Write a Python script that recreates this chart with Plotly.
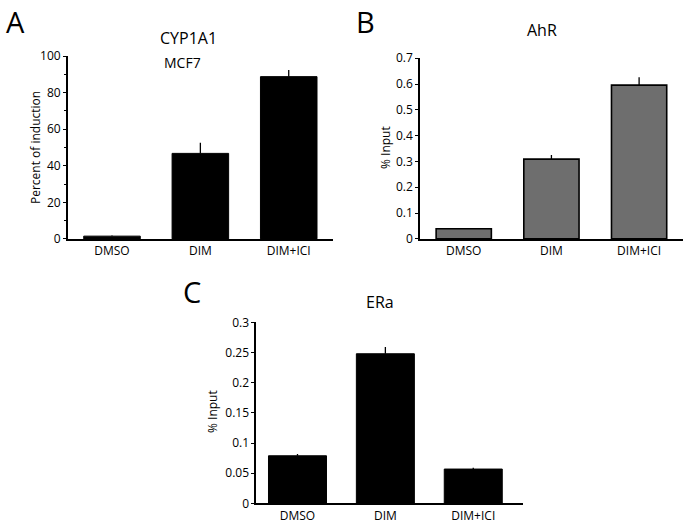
import plotly.graph_objects as go

categories = ["DMSO", "DIM", "DIM+ICI"]

# Panel A: CYP1A1 in MCF7
cyp_vals = [1.5, 46.8, 88.8]
cyp_err = [0.3, 5.8, 3.6]

# Panel B: AhR
ahr_vals = [0.039, 0.309, 0.596]
ahr_err = [0.0, 0.016, 0.03]

# Panel C: ERa
era_vals = [0.079, 0.248, 0.057]
era_err = [0.003, 0.011, 0.002]

FONT = "Open Sans, DejaVu Sans, sans-serif"

fig = go.Figure()

fig.add_trace(go.Bar(
    x=categories, y=cyp_vals, xaxis="x", yaxis="y", width=0.64,
    marker=dict(color="black", line=dict(color="black", width=1)),
    error_y=dict(type="data", symmetric=False, array=cyp_err, arrayminus=[0, 0, 0],
                 color="black", thickness=1.3, width=0),
))
fig.add_trace(go.Bar(
    x=categories, y=ahr_vals, xaxis="x2", yaxis="y2", width=0.63,
    marker=dict(color="#6e6e6e", line=dict(color="black", width=1.6)),
    error_y=dict(type="data", symmetric=False, array=ahr_err, arrayminus=[0, 0, 0],
                 color="black", thickness=1.3, width=0),
))
fig.add_trace(go.Bar(
    x=categories, y=era_vals, xaxis="x3", yaxis="y3", width=0.66,
    marker=dict(color="black", line=dict(color="black", width=1)),
    error_y=dict(type="data", symmetric=False, array=era_err, arrayminus=[0, 0, 0],
                 color="black", thickness=1.3, width=0),
))

# automargin off so the domains stay where they are put
xcommon = dict(showline=True, linecolor="black", linewidth=2, ticks="",
               showgrid=False, zeroline=False, range=[-0.5, 2.5], automargin=False,
               tickfont=dict(size=12, color="black", family=FONT))
ycommon = dict(showline=True, linecolor="black", linewidth=1.5, ticks="outside",
               ticklen=3, tickwidth=1, tickcolor="black", showgrid=False, zeroline=False,
               automargin=False, tickfont=dict(size=12, color="black", family=FONT))

fig.update_layout(
    width=685, height=525,
    margin=dict(l=0, r=0, t=0, b=0),
    paper_bgcolor="white", plot_bgcolor="white",
    showlegend=False, bargap=0.35,
    font=dict(family=FONT, color="black"),
    xaxis=dict(xcommon, domain=[0.099, 0.486], anchor="y"),
    yaxis=dict(ycommon, domain=[0.545, 0.893], range=[0, 100], dtick=20, anchor="x",
               minor=dict(ticks="outside", ticklen=2, dtick=10, tickcolor="black")),
    xaxis2=dict(xcommon, domain=[0.613, 0.997], anchor="y2"),
    yaxis2=dict(ycommon, domain=[0.545, 0.889], range=[0, 0.7], dtick=0.1, anchor="x2",
                tickformat=".1~f"),
    xaxis3=dict(xcommon, domain=[0.374, 0.764], range=[-0.47, 2.57], anchor="y3"),
    yaxis3=dict(ycommon, domain=[0.041, 0.386], range=[0, 0.3], dtick=0.05, anchor="x3",
                tickformat=".2~f"),
)

# panel letters, hung from the top edge so they are not clipped
letters = [("A", 15, 0), ("B", 365, 0), ("C", 192, 270)]
for text, x, y in letters:
    fig.add_annotation(text=text, x=x / 685, y=1 - y / 525,
                       xref="paper", yref="paper", showarrow=False,
                       xanchor="center", yanchor="top",
                       font=dict(size=29, color="black", family=FONT))

titles = [
    dict(text="CYP1A1", x=188, y=38, size=16),
    dict(text="MCF7", x=183, y=62, size=14),
    dict(text="AhR", x=542, y=30, size=16),
    dict(text="ERa", x=380, y=302, size=16),
]
for a in titles:
    fig.add_annotation(text=a["text"], x=a["x"] / 685, y=1 - a["y"] / 525,
                       xref="paper", yref="paper", showarrow=False,
                       xanchor="center", yanchor="middle",
                       font=dict(size=a["size"], color="black", family=FONT))

ylabels = [
    dict(text="Percent of induction", x=35, y=148),
    dict(text="% Input", x=385, y=148),
    dict(text="% Input", x=212, y=412),
]
for a in ylabels:
    fig.add_annotation(text=a["text"], x=a["x"] / 685, y=1 - a["y"] / 525,
                       xref="paper", yref="paper", showarrow=False, textangle=-90,
                       xanchor="center", yanchor="middle",
                       font=dict(size=12, color="black", family=FONT))

# drop the default body margin so the figure sits at the page corner
fig.write_html("out.html", config=dict(displayModeBar=False),
               post_script="document.body.style.margin='0px';")
